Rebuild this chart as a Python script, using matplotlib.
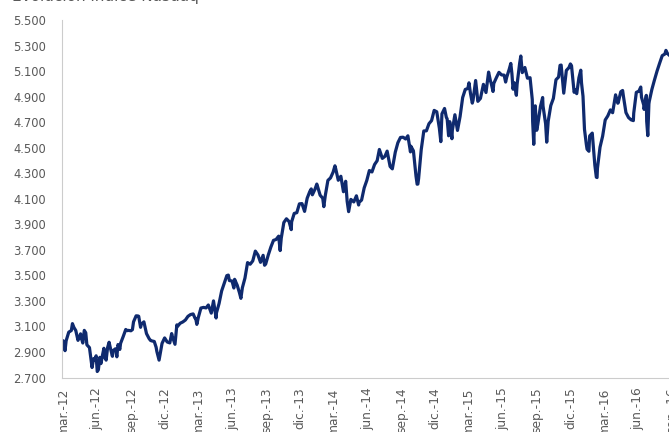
import pandas as pd
import matplotlib
matplotlib.use('Agg')
import matplotlib.pyplot as plt
from matplotlib.ticker import FuncFormatter

# Nasdaq Composite, closes (MM-DD, value)
d2012 = ['02-27', '03-01', '03-06', '03-09', '03-16', '03-23', '03-26', '03-30', '04-04', '04-10',
         '04-13', '04-17', '04-20', '04-23', '04-27', '05-01', '05-04', '05-11', '05-18', '05-22',
         '05-25', '05-29', '06-01', '06-04', '06-08', '06-11', '06-15', '06-19', '06-21', '06-25',
         '06-29', '07-03', '07-06', '07-12', '07-13', '07-20', '07-24', '07-27', '08-01', '08-03',
         '08-10', '08-17', '08-21', '08-24', '08-31', '09-04', '09-07', '09-14', '09-19', '09-21',
         '09-26', '09-28', '10-05', '10-12', '10-19', '10-23', '10-26', '11-02', '11-07', '11-09',
         '11-15', '11-16', '11-23', '11-30', '12-07', '12-14', '12-19', '12-21', '12-28']
v2012 = [2966, 2988, 2910, 2988, 3055, 3068, 3122, 3092, 3068, 2991,
         3011, 3042, 3000, 2970, 3069, 3050, 2956, 2934, 2778, 2847,
         2838, 2870, 2747, 2760, 2858, 2809, 2872, 2929, 2860, 2836,
         2935, 2976, 2937, 2866, 2908, 2925, 2862, 2958, 2920, 2967,
         3020, 3076, 3067, 3069, 3066, 3075, 3136, 3183, 3182, 3179,
         3093, 3116, 3136, 3044, 3005, 2990, 2987, 2982, 2937, 2904,
         2836, 2853, 2967, 3010, 2978, 2971, 3044, 3021, 2960]

d2013 = ['01-02', '01-04', '01-11', '01-18', '01-25', '02-01', '02-08', '02-15', '02-20', '02-22',
         '02-25', '03-01', '03-08', '03-15', '03-22', '03-28', '04-05', '04-11', '04-18', '04-19',
         '04-26', '05-03', '05-10', '05-17', '05-21', '05-24', '05-31', '06-05', '06-07', '06-14',
         '06-20', '06-24', '06-28', '07-05', '07-12', '07-19', '07-26', '08-02', '08-09', '08-16',
         '08-23', '08-27', '08-30', '09-06', '09-13', '09-20', '09-27', '10-04', '10-08', '10-11',
         '10-18', '10-25', '11-01', '11-07', '11-08', '11-15', '11-22', '11-29', '12-06', '12-13',
         '12-20', '12-27', '12-31']
v2013 = [3112, 3101, 3125, 3135, 3150, 3179, 3193, 3198, 3165, 3161,
         3116, 3170, 3244, 3249, 3245, 3268, 3204, 3300, 3166, 3206,
         3279, 3378, 3437, 3498, 3502, 3459, 3456, 3401, 3469, 3423,
         3365, 3320, 3403, 3479, 3600, 3587, 3613, 3690, 3660, 3602,
         3657, 3579, 3589, 3660, 3722, 3774, 3781, 3807, 3694, 3791,
         3914, 3943, 3922, 3858, 3919, 3985, 3991, 4060, 4062, 4001,
         4104, 4156, 4177]

d2014 = ['01-03', '01-10', '01-15', '01-17', '01-24', '01-31', '02-03', '02-07', '02-14', '02-21',
         '02-28', '03-05', '03-07', '03-14', '03-21', '03-28', '04-03', '04-07', '04-11', '04-17',
         '04-25', '05-02', '05-08', '05-09', '05-16', '05-23', '05-30', '06-06', '06-13', '06-20',
         '06-27', '07-03', '07-11', '07-18', '07-24', '07-31', '08-01', '08-07', '08-15', '08-22',
         '08-29', '09-05', '09-12', '09-18', '09-25', '09-26', '10-03', '10-10', '10-13', '10-15',
         '10-17', '10-24', '10-31', '11-07', '11-14', '11-21', '11-28', '12-05', '12-12', '12-16',
         '12-19', '12-26', '12-31']
v2014 = [4131, 4174, 4215, 4197, 4128, 4104, 4038, 4126, 4244, 4263,
         4308, 4358, 4336, 4245, 4276, 4155, 4237, 4080, 3999, 4095,
         4075, 4123, 4051, 4071, 4090, 4185, 4243, 4321, 4310, 4368,
         4398, 4486, 4416, 4432, 4473, 4370, 4353, 4334, 4465, 4539,
         4580, 4582, 4568, 4593, 4467, 4512, 4475, 4276, 4214, 4215,
         4258, 4483, 4631, 4632, 4688, 4712, 4792, 4781, 4653, 4547,
         4765, 4807, 4736]

d2015 = ['01-02', '01-06', '01-09', '01-15', '01-16', '01-23', '01-30', '02-06', '02-13', '02-20',
         '02-27', '03-02', '03-06', '03-11', '03-13', '03-20', '03-26', '04-02', '04-10', '04-17',
         '04-24', '04-29', '05-01', '05-06', '05-08', '05-15', '05-22', '05-29', '06-05', '06-09',
         '06-12', '06-19', '06-23', '06-26', '06-29', '07-02', '07-08', '07-10', '07-17', '07-20',
         '07-24', '07-31', '08-07', '08-14', '08-20', '08-21', '08-24', '08-26', '08-28', '09-01',
         '09-04', '09-11', '09-17', '09-18', '09-25', '09-28', '10-02', '10-09', '10-16', '10-23',
         '10-30', '11-03', '11-06', '11-13', '11-20', '11-27', '12-01', '12-04', '12-11', '12-14',
         '12-18', '12-24', '12-29', '12-31']
v2015 = [4727, 4593, 4704, 4570, 4634, 4758, 4635, 4744, 4893, 4956,
         4964, 5008, 4927, 4849, 4871, 5026, 4863, 4886, 4996, 4932,
         5092, 5023, 5005, 4940, 5003, 5048, 5090, 5070, 5068, 5014,
         5052, 5117, 5160, 5080, 4958, 5009, 4910, 4997, 5163, 5218,
         5088, 5128, 5044, 5048, 4877, 4706, 4526, 4697, 4828, 4636,
         4683, 4822, 4893, 4827, 4687, 4543, 4707, 4830, 4886, 5032,
         5053, 5145, 5147, 4927, 5105, 5127, 5156, 5142, 4934, 4952,
         4923, 5048, 5107, 5007]

d2016 = ['01-04', '01-08', '01-13', '01-15', '01-20', '01-22', '01-29', '02-05', '02-09', '02-11',
         '02-12', '02-19', '02-26', '03-04', '03-11', '03-18', '03-24', '04-01', '04-07', '04-08',
         '04-15', '04-20', '04-22', '04-29', '05-06', '05-13', '05-19', '05-20', '05-27', '06-03',
         '06-08', '06-10', '06-16', '06-17', '06-23', '06-24', '06-27', '06-30', '07-01', '07-08',
         '07-15', '07-22', '07-29', '08-05', '08-12', '08-15', '08-19', '08-26', '09-02', '09-06']
v2016 = [4903, 4644, 4526, 4488, 4472, 4592, 4614, 4363, 4269, 4266,
         4338, 4504, 4590, 4717, 4749, 4796, 4774, 4914, 4848, 4851,
         4938, 4948, 4906, 4775, 4736, 4718, 4712, 4770, 4933, 4943,
         4975, 4895, 4834, 4800, 4910, 4708, 4594, 4843, 4863, 4956,
         5030, 5100, 5162, 5221, 5233, 5262, 5238, 5219, 5250, 5276]

tick_months = {3: 'mar.', 6: 'jun.', 9: 'sep.', 12: 'dic.'}
y_ticks = list(range(2700, 5501, 200))

fechas = []
valores = []
for year, ds, vs in [(2012, d2012, v2012), (2013, d2013, v2013), (2014, d2014, v2014),
                     (2015, d2015, v2015), (2016, d2016, v2016)]:
    fechas += [pd.Timestamp('%d-%s' % (year, d)) for d in ds]
    valores += vs
serie = pd.Series(valores, index=fechas)

fig = plt.figure(figsize=(6.69, 4.32), dpi=100)
# axes extend a bit past the right edge, like the cropped original
ax = fig.add_axes([61.7 / 669, 54.5 / 432, (690 - 61.7) / 669, (377.5 - 20) / 432])
ax.plot(serie.index, serie.values, color='#0f2a6e', lw=2.3, solid_joinstyle='round')

ax.set_ylim(2700, 5500)
ax.set_yticks(y_ticks)
ax.yaxis.set_major_formatter(FuncFormatter(lambda v, p: '{:,.0f}'.format(v).replace(',', '.')))

ax.set_xlim(pd.Timestamp('2012-02-26'), pd.Timestamp('2016-10-19'))
ticks = pd.date_range('2012-03-01', '2016-09-01', freq='3MS')
ax.set_xticks(ticks)
ax.set_xticklabels(['%s-%s' % (tick_months[t.month], str(t.year)[2:]) for t in ticks], rotation=90)

for s in ['top', 'right']:
    ax.spines[s].set_visible(False)
for s in ['left', 'bottom']:
    ax.spines[s].set_color('#cccccc')
ax.tick_params(axis='y', length=0, pad=11.5, labelsize=8.3, labelcolor='#595959')
ax.tick_params(axis='x', length=0, pad=7, labelsize=8.8, labelcolor='#595959')

fig.text(12 / 669, 1 - 1.5 / 432, 'Evolución índice Nasdaq', fontsize=11, color='#595959', va='baseline')

fig.savefig('out.png', dpi=100)
